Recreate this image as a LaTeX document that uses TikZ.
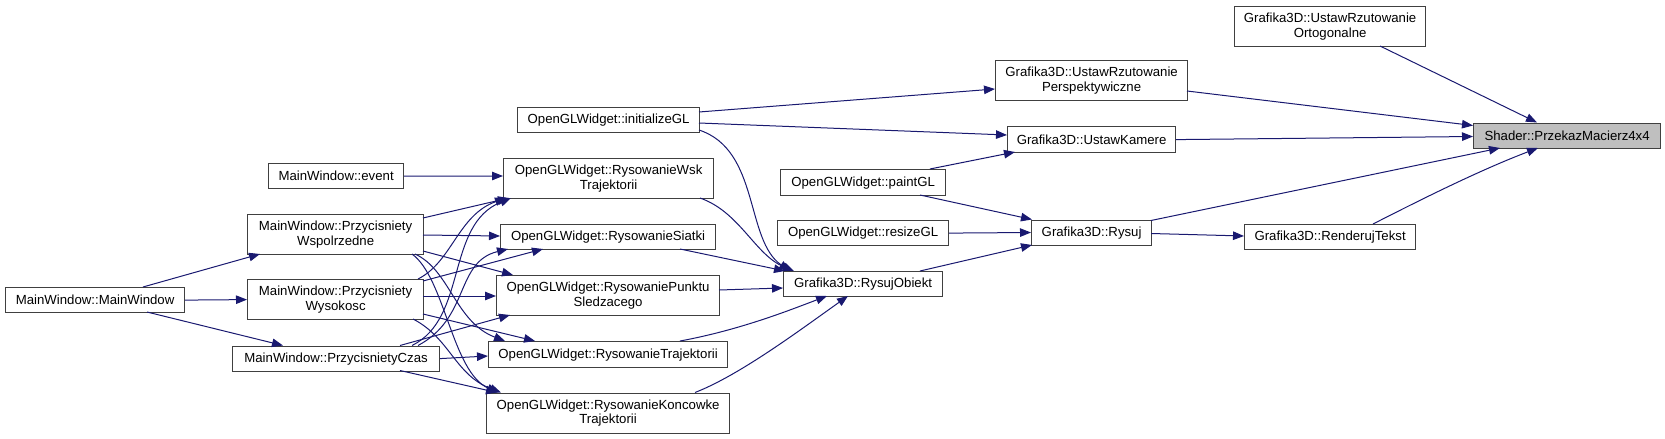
\documentclass[tikz,border=0pt]{standalone}
\usepackage{fontspec}
\setmainfont{Liberation Sans}
\usetikzlibrary{arrows.meta,calc}
\definecolor{edgec}{HTML}{191970}
\definecolor{bordc}{HTML}{404040}
\definecolor{shfill}{HTML}{BFBFBF}
\tikzset{
  nbox/.style={draw=bordc, line width=1.2pt, fill=white, inner sep=0pt, align=center,
    anchor=north west, font=\fontsize{13.2}{14.8}\selectfont},
  callarrow/.style={draw=edgec, line width=1pt, -{Triangle[length=11pt,width=8.5pt]}}
}
\begin{document}
\begin{tikzpicture}[x=1pt,y=-1pt]
\useasboundingbox (0,0) rectangle (1665,439);
% nodes
\node[nbox,minimum width=179,minimum height=25] (mw) at (5,287) {MainWindow::MainWindow};
\node[nbox,minimum width=135,minimum height=25] (ev) at (268,163) {MainWindow::event};
\node[nbox,minimum width=176,minimum height=40] (w1) at (247,214) {MainWindow::Przycisniety\\Wspolrzedne};
\node[nbox,minimum width=176,minimum height=40] (w2) at (247,279) {MainWindow::Przycisniety\\Wysokosc};
\node[nbox,minimum width=207,minimum height=25] (cz) at (232,345.5) {MainWindow::PrzycisnietyCzas};
\node[nbox,minimum width=182,minimum height=25] (ini) at (517,107) {OpenGLWidget::initializeGL};
\node[nbox,minimum width=210,minimum height=40] (wsk) at (503,158) {OpenGLWidget::RysowanieWsk\\Trajektorii};
\node[nbox,minimum width=215,minimum height=25] (sia) at (500,224) {OpenGLWidget::RysowanieSiatki};
\node[nbox,minimum width=223,minimum height=40] (pun) at (496,275) {OpenGLWidget::RysowaniePunktu\\Sledzacego};
\node[nbox,minimum width=239,minimum height=26] (tra) at (488,341) {OpenGLWidget::RysowanieTrajektorii};
\node[nbox,minimum width=243,minimum height=40] (kon) at (486,392.5) {OpenGLWidget::RysowanieKoncowke\\Trajektorii};
\node[nbox,minimum width=165,minimum height=26] (pai) at (780,169) {OpenGLWidget::paintGL};
\node[nbox,minimum width=171,minimum height=25] (res) at (777,220) {OpenGLWidget::resizeGL};
\node[nbox,minimum width=159,minimum height=25] (obj) at (783,271) {Grafika3D::RysujObiekt};
\node[nbox,minimum width=192,minimum height=40] (per) at (995,60) {Grafika3D::UstawRzutowanie\\Perspektywiczne};
\node[nbox,minimum width=168,minimum height=26] (kam) at (1007,126) {Grafika3D::UstawKamere};
\node[nbox,minimum width=120,minimum height=25.5] (rys) at (1031,219.5) {Grafika3D::Rysuj};
\node[nbox,minimum width=191,minimum height=40] (ort) at (1234,6) {Grafika3D::UstawRzutowanie\\Ortogonalne};
\node[nbox,minimum width=171,minimum height=25] (ren) at (1244,224) {Grafika3D::RenderujTekst};
\node[nbox,fill=shfill,minimum width=187,minimum height=25.5] (sh) at (1473,122.5) {Shader::PrzekazMacierz4x4};
% left edges
\draw[callarrow] ($(mw.north west)+(138,0)$) -- ($(w1.north west)+(13,40)$);
\draw[callarrow] (mw.east) -- (w2.west);
\draw[callarrow] ($(mw.north west)+(142,25)$) -- ($(cz.north west)+(51,0)$);
\draw[callarrow] (ev.east) -- ($(wsk.north west)+(0,18)$);
\draw[callarrow] ($(w1.north west)+(176,4)$) -- ($(wsk.north west)+(6,40)$);
\draw[callarrow] ($(w1.north west)+(176,21)$) -- ($(sia.north west)+(0,12)$);
\draw[callarrow] ($(w1.north west)+(176,37)$) -- ($(pun.north west)+(17,0)$);
\draw[callarrow] ($(w1.north west)+(168,40)$) .. controls (450,270) and (455,322) .. ($(tra.north west)+(17,0)$);
\draw[callarrow] ($(w1.north west)+(165,40)$) .. controls (445,278) and (452,372) .. ($(kon.north west)+(12,0)$);
\draw[callarrow] ($(w2.north west)+(171,0)$) .. controls (452,262) and (458,215) .. ($(wsk.north west)+(3,40)$);
\draw[callarrow] ($(w2.north west)+(176,2)$) -- ($(sia.north west)+(43,25)$);
\draw[callarrow] ($(w2.north west)+(176,17)$) -- ($(pun.north west)+(0,21)$);
\draw[callarrow] ($(w2.north west)+(176,35)$) -- ($(tra.north west)+(47,0)$);
\draw[callarrow] ($(w2.north west)+(166,40)$) .. controls (450,338) and (455,375) .. ($(kon.north west)+(15,0)$);
\draw[callarrow] ($(cz.north west)+(180,0)$) .. controls (468,318) and (445,225) .. ($(wsk.north west)+(8,40)$);
\draw[callarrow] ($(cz.north west)+(186,0)$) .. controls (470,318) and (455,262) .. ($(sia.north west)+(8,25)$);
\draw[callarrow] ($(cz.north west)+(168,0)$) -- ($(pun.north west)+(14,40)$);
\draw[callarrow] (cz.east) -- ($(tra.north west)+(0,15)$);
\draw[callarrow] ($(cz.north west)+(168,25)$) -- ($(kon.north west)+(11,0)$);
% middle edges
\draw[callarrow] ($(ini.north west)+(182,5)$) -- ($(per.north west)+(0,29)$);
\draw[callarrow] ($(ini.north west)+(182,16)$) -- ($(kam.north west)+(0,9)$);
\draw[callarrow] ($(ini.north west)+(182,23)$) .. controls (760,150) and (745,240) .. ($(obj.north west)+(7,0)$);
\draw[callarrow] ($(wsk.north west)+(197,40)$) .. controls (740,212) and (755,255) .. ($(obj.north west)+(11,0)$);
\draw[callarrow] ($(sia.north west)+(180,25)$) -- ($(obj.north west)+(2,0)$);
\draw[callarrow] ($(pun.north west)+(223,15)$) -- ($(obj.north west)+(0,17)$);
\draw[callarrow] ($(tra.north west)+(192,0)$) .. controls (740,330) and (790,310) .. ($(obj.north west)+(44,25)$);
\draw[callarrow] ($(kon.north west)+(209,0)$) .. controls (740,375) and (800,330) .. ($(obj.north west)+(65,25)$);
\draw[callarrow] ($(obj.north west)+(137,0)$) -- ($(rys.north west)+(1,25.5)$);
\draw[callarrow] ($(pai.north west)+(150,0)$) -- ($(kam.north west)+(8,26)$);
\draw[callarrow] ($(pai.north west)+(140,26)$) -- ($(rys.north west)+(1,0)$);
\draw[callarrow] (res.east) -- ($(rys.north west)+(0,13)$);
% right edges
\draw[callarrow] ($(ort.north west)+(146,40)$) -- ($(sh.north west)+(64,0)$);
\draw[callarrow] ($(per.north west)+(192,31)$) -- ($(sh.north west)+(0,3)$);
\draw[callarrow] (kam.east) -- ($(sh.north west)+(0,14)$);
\draw[callarrow] ($(rys.north west)+(120,1)$) -- ($(sh.north west)+(27,25.5)$);
\draw[callarrow] ($(ren.north west)+(129,0)$) .. controls (1420,200) and (1480,170) .. ($(sh.north west)+(65,25.5)$);
\draw[callarrow] ($(rys.north west)+(120,14)$) -- ($(ren.north west)+(0,12)$);
\end{tikzpicture}
\end{document}
